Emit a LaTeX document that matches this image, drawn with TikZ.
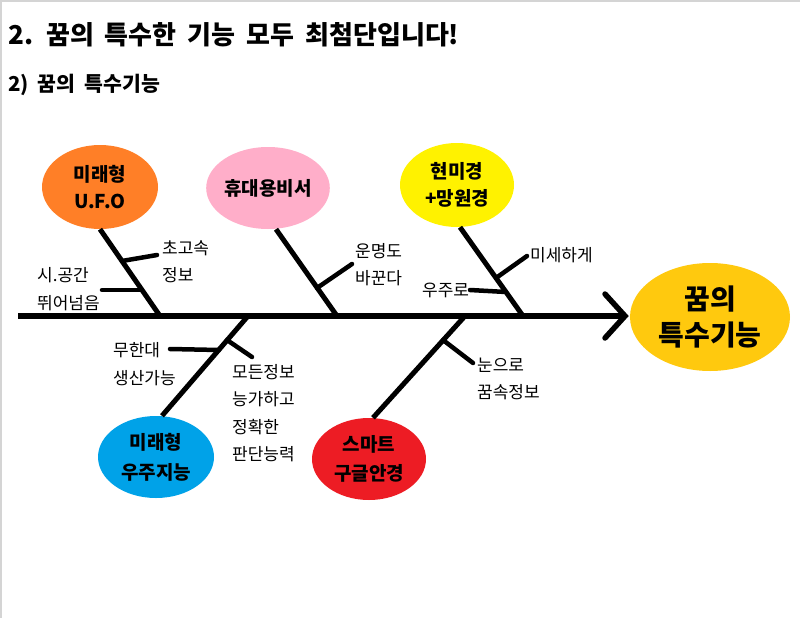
\documentclass[tikz,border=0pt]{standalone}
\usepackage{fontspec}
\setmainfont{Noto Sans CJK KR}
\usetikzlibrary{shapes.geometric}
\definecolor{cOrange}{HTML}{FF7F27}
\definecolor{cPink}{HTML}{FFAEC9}
\definecolor{cYellow}{HTML}{FFF200}
\definecolor{cGold}{HTML}{FFC90E}
\definecolor{cBlue}{HTML}{00A2E8}
\definecolor{cRed}{HTML}{ED1C24}
\definecolor{cBorder}{HTML}{D4D4D4}
\tikzset{
  blob/.style={ellipse, inner sep=0pt, align=center, font=\bfseries\fontsize{19}{27}\selectfont},
  lbl/.style={anchor=west, inner sep=0pt, align=left, font=\fontsize{17}{27.5}\selectfont},
  spine/.style={line width=5.5pt},
  bone/.style={line width=5pt},
  twig/.style={line width=4.5pt, line cap=round},
  tip/.style={line width=5.5pt, line cap=round, line join=miter},
}
\begin{document}
\begin{tikzpicture}[x=1pt,y=-1pt]
\useasboundingbox (0,0) rectangle (800,618);
\fill[white] (0,0) rectangle (800,618);
\draw[cBorder, line width=1.6pt] (0.8,618) -- (0.8,0.8) -- (800,0.8);

\node[anchor=west, inner sep=0pt, font=\bfseries\fontsize{26}{30}\selectfont] (title) at (8,35) {\spaceskip=11pt\relax 2. 꿈의 특수한 기능 모두 최첨단입니다!};
\node[anchor=west, inner sep=0pt, font=\bfseries\fontsize{20.5}{24}\selectfont] (sub) at (8,85) {\spaceskip=9pt\relax 2) 꿈의 특수기능};

% ellipses
\node[blob, fill=cOrange, minimum width=116pt, minimum height=84pt] (ufo) at (100,187) {미래형\\U.F.O};
\node[blob, fill=cPink, minimum width=108pt, minimum height=82pt] (sec) at (268,188) {휴대용비서};
\node[blob, fill=cYellow, minimum width=114pt, minimum height=84pt] (scope) at (457,185) {현미경\\+망원경};
\node[blob, fill=cGold, minimum width=160pt, minimum height=108pt, font=\bfseries\fontsize{28}{36}\selectfont] (goal) at (710,317) {꿈의\\특수기능};
\node[blob, fill=cBlue, minimum width=116pt, minimum height=82pt, font=\bfseries\fontsize{19}{30}\selectfont] (ai) at (156,457) {미래형\\우주지능};
\node[blob, fill=cRed, minimum width=114pt, minimum height=82pt, font=\bfseries\fontsize{19}{29}\selectfont] (glass) at (369,459) {스마트\\구글안경};

% spine
\coordinate (tail) at (18,316);
\coordinate (head) at (625,316);
\coordinate (hA) at (605,294);
\coordinate (hB) at (605,338);
\draw[spine] (tail) -- (head);
\draw[tip] (hA) -- (head) -- (hB);

% bone joints on spine
\coordinate (s1) at (160,316);
\coordinate (s2) at (337,316);
\coordinate (s3) at (523,316);
\coordinate (s4) at (248,316);
\coordinate (s5) at (465,316);

\draw[bone] (ufo.south) -- (s1);
\draw[bone] ([xshift=8pt]sec.south) -- (s2);
\draw[bone] ([xshift=3pt]scope.south) -- (s3);
\draw[bone] (s4) -- ([xshift=6pt]ai.north);
\draw[bone] (s5) -- ([xshift=4pt]glass.north);

% twigs
\coordinate (j1) at (122,261); \coordinate (e1) at (157,255);
\coordinate (j2) at (141,290); \coordinate (e2) at (102,290);
\coordinate (j3) at (317,288); \coordinate (e3) at (352,264);
\coordinate (j4) at (496,278); \coordinate (e4) at (527,256);
\coordinate (j5) at (506,292); \coordinate (e5) at (470,290);
\coordinate (j6) at (219,350); \coordinate (e6) at (170,349);
\coordinate (j7) at (227,340); \coordinate (e7) at (252,357);
\coordinate (j8) at (443,340); \coordinate (e8) at (473,363);
\draw[twig] (j1) -- (e1);
\draw[twig] (j2) -- (e2);
\draw[twig] (j3) -- (e3);
\draw[twig] (j4) -- (e4);
\draw[twig] (j5) -- (e5);
\draw[twig] (j6) -- (e6);
\draw[twig] (j7) -- (e7);
\draw[twig] (j8) -- (e8);

% labels
\node[lbl] (l1) at (162,261.5) {초고속\\정보};
\node[lbl] (l2) at (37,289) {시.공간\\뛰어넘음};
\node[lbl] (l3) at (355,264.5) {운명도\\바꾼다};
\node[lbl] (l4) at (530,255) {미세하게};
\node[lbl] (l5) at (422,290) {우주로};
\node[lbl] (l6) at (113,364) {무한대\\생산가능};
\node[lbl] (l7) at (232,413) {모든정보\\능가하고\\정확한\\판단능력};
\node[lbl] (l8) at (477,379) {눈으로\\꿈속정보};
\end{tikzpicture}
\end{document}
